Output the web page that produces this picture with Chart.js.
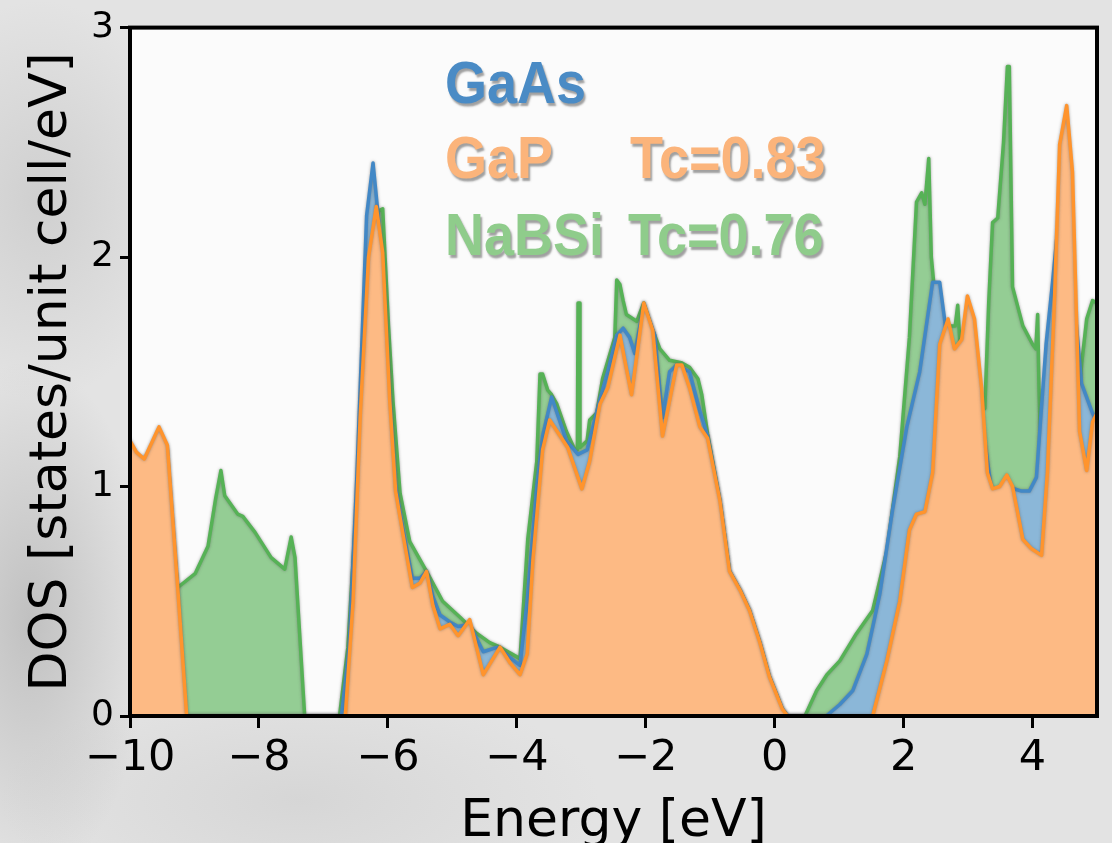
<!DOCTYPE html>
<html>
<head>
<meta charset="utf-8">
<script src="https://cdn.jsdelivr.net/npm/chart.js@4.4.0/dist/chart.umd.min.js"></script>
<style>
html,body{margin:0;padding:0;}
body{width:1112px;height:843px;overflow:hidden;position:relative;
 background:
  radial-gradient(ellipse 120px 260px at 30px 620px, rgba(150,150,150,0.45), rgba(150,150,150,0) 100%),
  radial-gradient(ellipse 140px 200px at 40px 200px, rgba(170,170,170,0.35), rgba(170,170,170,0) 100%),
  radial-gradient(ellipse 300px 120px at 300px 800px, rgba(190,190,190,0.35), rgba(190,190,190,0) 100%),
  #e3e3e3;}
#wrap{position:absolute;left:0;top:0;width:1112px;height:843px;}
.lg{position:absolute;font-family:'Liberation Sans',Arial,sans-serif;font-weight:bold;font-size:60px;line-height:1;white-space:pre;
 text-shadow:2px 3px 2px rgba(70,70,70,0.5);transform:scaleX(0.9);transform-origin:0 0;}
</style>
</head>
<body>
<div id="wrap"><canvas id="c" width="1112" height="843"></canvas></div>
<div class="lg" style="left:445px;top:53px;color:#4a8bc5">GaAs</div>
<div class="lg" style="left:445px;top:128px;color:#fbb47b">GaP</div>
<div class="lg" style="left:630px;top:128px;color:#fbb47b">Tc=0.83</div>
<div class="lg" style="left:445px;top:205px;color:#8fcc8b">NaBSi</div>
<div class="lg" style="left:628px;top:205px;color:#8fcc8b">Tc=0.76</div>
<script>
// ---- data ----
const xTickValues = [-10, -8, -6, -4, -2, 0, 2, 4];
const yTickValues = [0, 1, 2, 3];

const gapEnergy = [-10, -9.9, -9.78, -9.55, -9.42, -9.26, -9.12, -6.66, -6.54, -6.43, -6.3, -6.18, -6.08, -5.97, -5.88, -5.77, -5.62, -5.5, -5.4, -5.3, -5.19, -5.04, -4.91, -4.73, -4.52, -4.26, -4.1, -3.95, -3.84, -3.75, -3.6, -3.49, -3.21, -2.99, -2.87, -2.71, -2.59, -2.4, -2.22, -2.03, -1.89, -1.74, -1.52, -1.44, -1.32, -1.16, -1.04, -0.85, -0.7, -0.54, -0.39, -0.23, -0.08, 0.12, 0.2, 1.52, 1.74, 1.94, 2.09, 2.2, 2.33, 2.45, 2.56, 2.69, 2.79, 2.9, 2.99, 3.1, 3.21, 3.3, 3.38, 3.49, 3.6, 3.69, 3.85, 3.98, 4.14, 4.23, 4.34, 4.42, 4.53, 4.62, 4.73, 4.84, 4.93, 5.0];
const gapDos = [1.20, 1.15, 1.12, 1.26, 1.18, 0.56, 0.0, 0.0, 0.5, 1.3, 2.0, 2.22, 2.02, 1.37, 0.98, 0.8, 0.56, 0.58, 0.63, 0.48, 0.38, 0.40, 0.35, 0.42, 0.18, 0.30, 0.23, 0.18, 0.27, 0.68, 1.16, 1.29, 1.17, 0.99, 1.11, 1.36, 1.43, 1.66, 1.40, 1.80, 1.68, 1.22, 1.53, 1.53, 1.43, 1.26, 1.21, 0.94, 0.63, 0.55, 0.46, 0.32, 0.17, 0.03, 0.0, 0.0, 0.24, 0.5, 0.81, 0.88, 0.89, 1.06, 1.62, 1.73, 1.6, 1.64, 1.83, 1.73, 1.43, 1.06, 0.99, 1.0, 1.05, 1.0, 0.77, 0.73, 0.7, 1.06, 1.81, 2.49, 2.66, 2.37, 1.24, 1.07, 1.28, 1.32];

const gaasEnergy = [-10, -9.9, -9.78, -9.55, -9.42, -9.26, -9.14, -6.72, -6.6, -6.48, -6.33, -6.23, -6.15, -6.05, -5.97, -5.88, -5.77, -5.62, -5.5, -5.4, -5.3, -5.19, -5.04, -4.91, -4.73, -4.52, -4.3, -3.95, -3.84, -3.69, -3.6, -3.46, -3.23, -3.05, -2.91, -2.71, -2.59, -2.45, -2.35, -2.25, -2.17, -2.03, -1.86, -1.74, -1.63, -1.52, -1.32, -1.16, -1.04, -0.85, -0.7, -0.54, -0.39, -0.23, -0.08, 0.12, 0.2, 0.8, 1.01, 1.21, 1.43, 1.63, 1.83, 2.05, 2.25, 2.45, 2.56, 2.64, 2.75, 2.99, 3.21, 3.38, 3.6, 3.83, 3.95, 4.06, 4.21, 4.31, 4.45, 4.55, 4.65, 4.76, 4.93, 5.0];
const gaasDos = [1.18, 1.13, 1.10, 1.24, 1.16, 0.54, 0.0, 0.0, 0.3, 1.05, 2.18, 2.41, 2.18, 1.8, 1.38, 1.0, 0.82, 0.6, 0.6, 0.63, 0.52, 0.44, 0.41, 0.39, 0.40, 0.28, 0.30, 0.22, 0.5, 1.0, 1.22, 1.39, 1.2, 1.14, 1.16, 1.38, 1.5, 1.66, 1.69, 1.65, 1.58, 1.79, 1.66, 1.30, 1.50, 1.53, 1.5, 1.33, 1.22, 0.94, 0.63, 0.55, 0.46, 0.32, 0.17, 0.03, 0.0, 0.0, 0.05, 0.11, 0.27, 0.53, 0.9, 1.26, 1.5, 1.89, 1.89, 1.72, 1.5, 1.7, 1.3, 0.95, 1.0, 0.98, 0.98, 1.04, 1.62, 1.89, 2.3, 2.4, 1.8, 1.45, 1.32, 1.28];

const nabsiEnergy = [-10, -9.55, -9.4, -9.26, -8.99, -8.79, -8.67, -8.59, -8.53, -8.33, -8.25, -8.06, -7.81, -7.6, -7.5, -7.44, -7.36, -7.29, -6.75, -6.62, -6.45, -6.3, -6.15, -6.08, -5.99, -5.92, -5.81, -5.66, -5.4, -5.15, -4.88, -4.62, -4.42, -4.26, -3.95, -3.83, -3.69, -3.64, -3.6, -3.52, -3.46, -3.38, -3.23, -3.1, -3.06, -3.05, -3.03, -3.02, -2.91, -2.87, -2.76, -2.67, -2.48, -2.45, -2.4, -2.35, -2.3, -2.14, -2.03, -1.89, -1.78, -1.63, -1.45, -1.32, -1.19, -1.13, -1.04, -0.85, -0.7, -0.54, -0.39, -0.23, -0.08, 0.12, 0.2, 0.47, 0.65, 0.81, 1.01, 1.27, 1.52, 1.74, 1.94, 2.09, 2.2, 2.28, 2.33, 2.39, 2.43, 2.48, 2.6, 2.8, 2.84, 2.88, 3.0, 3.1, 3.26, 3.32, 3.38, 3.46, 3.55, 3.61, 3.64, 3.69, 3.85, 4.0, 4.05, 4.08, 4.1, 4.15, 4.3, 4.5, 4.7, 4.76, 4.84, 4.93, 5.0];
const nabsiDos = [1.1, 1.15, 1.0, 0.56, 0.62, 0.74, 0.95, 1.07, 0.96, 0.88, 0.87, 0.80, 0.69, 0.64, 0.78, 0.69, 0.32, 0.0, 0.0, 0.3, 1.1, 1.9, 2.2, 2.21, 1.7, 1.37, 0.97, 0.76, 0.63, 0.50, 0.43, 0.36, 0.32, 0.30, 0.25, 0.77, 1.11, 1.49, 1.49, 1.42, 1.40, 1.36, 1.24, 1.16, 1.16, 1.80, 1.80, 1.17, 1.20, 1.29, 1.32, 1.47, 1.65, 1.90, 1.88, 1.81, 1.75, 1.72, 1.80, 1.68, 1.60, 1.55, 1.54, 1.52, 1.47, 1.40, 1.23, 0.94, 0.63, 0.55, 0.46, 0.32, 0.17, 0.03, 0.0, 0.0, 0.11, 0.18, 0.24, 0.36, 0.46, 0.72, 1.13, 1.65, 2.24, 2.28, 2.23, 2.43, 2.0, 1.85, 1.7, 1.7, 1.79, 1.6, 1.5, 1.4, 1.34, 1.8, 2.15, 2.17, 2.5, 2.83, 2.83, 1.87, 1.7, 1.62, 1.6, 1.75, 1.43, 0.95, 1.2, 1.2, 1.3, 1.53, 1.73, 1.81, 1.8];

const seriesNames = ['GaP', 'GaAs', 'NaBSi'];

function pts(xs, ys){ return xs.map((x, i) => ({x: x, y: ys[i]})); }

const framePlugin = {
  id: 'frame',
  beforeDraw(chart){
    const {ctx, chartArea: a} = chart;
    ctx.save();
    ctx.fillStyle = '#fbfbfb';
    ctx.fillRect(a.left, a.top, a.right - a.left, a.bottom - a.top);
    ctx.restore();
  },
  beforeDatasetDraw(chart){
    const ctx = chart.ctx;
    ctx.save();
    ctx.shadowColor = 'rgba(90,90,90,0.55)';
    ctx.shadowBlur = 3;
    ctx.shadowOffsetX = 0;
    ctx.shadowOffsetY = 0;
  },
  afterDatasetDraw(chart){
    chart.ctx.restore();
  },
  afterDraw(chart){
    const {ctx, chartArea: a} = chart;
    ctx.save();
    ctx.strokeStyle = '#000';
    ctx.lineWidth = 4;
    ctx.strokeRect(a.left, a.top, a.right - a.left, a.bottom - a.top);
    ctx.restore();
  }
};

const tickFont = {family: "'DejaVu Sans', sans-serif", size: 43};
const fmt = v => (v < 0 ? '\u2212' + Math.abs(v) : String(v));

new Chart(document.getElementById('c'), {
  type: 'line',
  data: {
    datasets: [
      {label: seriesNames[0], data: pts(gapEnergy, gapDos), order: 0,
       borderColor: 'rgb(255,148,45)', backgroundColor: 'rgb(253,186,132)', fill: 'origin'},
      {label: seriesNames[1], data: pts(gaasEnergy, gaasDos), order: 1,
       borderColor: 'rgb(66,136,198)', backgroundColor: 'rgb(139,183,216)', fill: 'origin'},
      {label: seriesNames[2], data: pts(nabsiEnergy, nabsiDos), order: 2,
       borderColor: 'rgb(86,178,86)', backgroundColor: 'rgb(148,205,148)', fill: 'origin'}
    ]
  },
  options: {
    responsive: false,
    animation: false,
    devicePixelRatio: 1,
    layout: {padding: {left: 0, top: 26, right: 15, bottom: 0}},
    elements: {
      line: {borderWidth: 3.5, tension: 0, borderJoinStyle: 'round', borderCapStyle: 'round'},
      point: {radius: 0, hoverRadius: 0}
    },
    plugins: {legend: {display: false}, tooltip: {enabled: false}},
    scales: {
      x: {
        type: 'linear', min: -10, max: 5,
        afterBuildTicks: s => { s.ticks = xTickValues.map(v => ({value: v})); },
        afterFit: s => { s.height = 127; },
        grid: {drawOnChartArea: false, tickLength: 12, tickWidth: 3, tickColor: '#000'},
        border: {color: '#000', width: 4},
        ticks: {color: '#000', font: tickFont, padding: 5, maxRotation: 0, autoSkip: false, callback: fmt},
        title: {display: true, text: 'Energy [eV]', color: '#000',
                font: {family: "'DejaVu Sans', sans-serif", size: 52, lineHeight: 0.8}, padding: 0}
      },
      y: {
        type: 'linear', min: 0, max: 3,
        afterBuildTicks: s => { s.ticks = yTickValues.map(v => ({value: v})); },
        afterFit: s => { s.width = 130; },
        grid: {drawOnChartArea: false, tickLength: 10, tickWidth: 3, tickColor: '#000'},
        border: {color: '#000', width: 4},
        ticks: {color: '#000', font: {family: "'DejaVu Sans', sans-serif", size: 36}, padding: 6, callback: fmt},
        title: {display: true, text: 'DOS [states/unit cell/eV]', color: '#000',
                font: {family: "'DejaVu Sans', sans-serif", size: 52, lineHeight: 1}, padding: {top: 26, bottom: 0}}
      }
    }
  },
  plugins: [framePlugin]
});
</script>
</body>
</html>
